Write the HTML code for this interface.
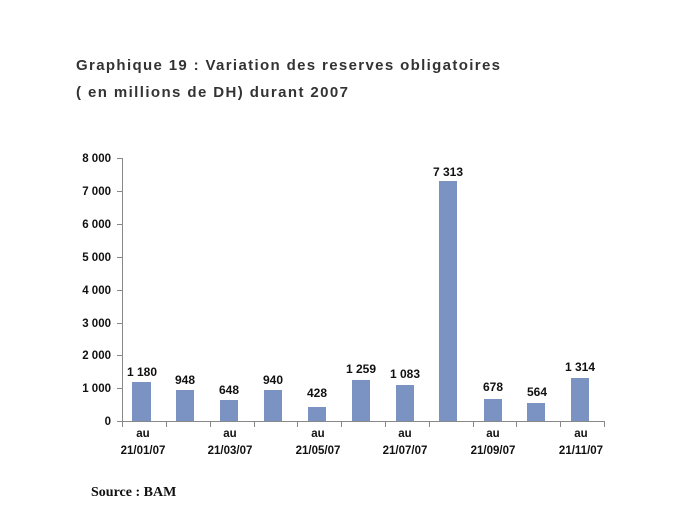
<!DOCTYPE html>
<html><head><meta charset="utf-8"><style>body{margin:0;background:#fff}svg{display:block}</style></head>
<body>
<svg width="682" height="512" xmlns="http://www.w3.org/2000/svg" font-family="Liberation Sans, sans-serif">
<text x="76" y="70" font-size="15" font-weight="bold" fill="#333" textLength="424" lengthAdjust="spacing">Graphique 19 : Variation des reserves obligatoires</text>
<text x="76" y="97" font-size="15" font-weight="bold" fill="#333" textLength="272" lengthAdjust="spacing">( en millions de DH) durant 2007</text>
<g stroke="#888" stroke-width="1">
<line x1="122.5" y1="158" x2="122.5" y2="421"/>
<line x1="122" y1="421.5" x2="604" y2="421.5"/>
<line x1="117" y1="158.5" x2="122" y2="158.5"/>
<line x1="117" y1="191.5" x2="122" y2="191.5"/>
<line x1="117" y1="224.5" x2="122" y2="224.5"/>
<line x1="117" y1="257.5" x2="122" y2="257.5"/>
<line x1="117" y1="290.5" x2="122" y2="290.5"/>
<line x1="117" y1="323.5" x2="122" y2="323.5"/>
<line x1="117" y1="355.5" x2="122" y2="355.5"/>
<line x1="117" y1="388.5" x2="122" y2="388.5"/>
<line x1="117" y1="421.5" x2="122" y2="421.5"/>
<line x1="122.5" y1="421" x2="122.5" y2="427"/>
<line x1="166.5" y1="421" x2="166.5" y2="427"/>
<line x1="210.5" y1="421" x2="210.5" y2="427"/>
<line x1="254.5" y1="421" x2="254.5" y2="427"/>
<line x1="297.5" y1="421" x2="297.5" y2="427"/>
<line x1="341.5" y1="421" x2="341.5" y2="427"/>
<line x1="385.5" y1="421" x2="385.5" y2="427"/>
<line x1="429.5" y1="421" x2="429.5" y2="427"/>
<line x1="473.5" y1="421" x2="473.5" y2="427"/>
<line x1="516.5" y1="421" x2="516.5" y2="427"/>
<line x1="560.5" y1="421" x2="560.5" y2="427"/>
<line x1="604.5" y1="421" x2="604.5" y2="427"/>
</g>
<g font-size="11.5" font-weight="bold" fill="#111" text-anchor="end">
<text x="111" y="162">8 000</text><text x="111" y="195">7 000</text><text x="111" y="228">6 000</text>
<text x="111" y="261">5 000</text><text x="111" y="294">4 000</text><text x="111" y="327">3 000</text>
<text x="111" y="359">2 000</text><text x="111" y="392">1 000</text><text x="111" y="425">0</text>
</g>
<g fill="#7b93c2">
<rect x="132" y="382" width="19" height="39"/>
<rect x="176" y="390" width="18" height="31"/>
<rect x="220" y="400" width="18" height="21"/>
<rect x="264" y="390" width="18" height="31"/>
<rect x="308" y="407" width="18" height="14"/>
<rect x="352" y="380" width="18" height="41"/>
<rect x="396" y="385" width="18" height="36"/>
<rect x="439" y="181" width="18" height="240"/>
<rect x="484" y="399" width="18" height="22"/>
<rect x="527" y="403" width="18" height="18"/>
<rect x="571" y="378" width="18" height="43"/>
</g>
<g font-size="12" font-weight="bold" fill="#111" text-anchor="middle">
<text x="142" y="376">1 180</text><text x="185" y="384">948</text><text x="229" y="394">648</text>
<text x="273" y="384">940</text><text x="317" y="397">428</text><text x="361" y="373">1 259</text>
<text x="405" y="378">1 083</text><text x="448" y="176">7 313</text><text x="493" y="391">678</text>
<text x="537" y="396">564</text><text x="580" y="371">1 314</text>
</g>
<g font-size="11.5" font-weight="bold" fill="#111" text-anchor="middle">
<text x="143" y="437">au</text><text x="143" y="454">21/01/07</text>
<text x="230" y="437">au</text><text x="230" y="454">21/03/07</text>
<text x="318" y="437">au</text><text x="318" y="454">21/05/07</text>
<text x="405" y="437">au</text><text x="405" y="454">21/07/07</text>
<text x="493" y="437">au</text><text x="493" y="454">21/09/07</text>
<text x="581" y="437">au</text><text x="581" y="454">21/11/07</text>
</g>
<text x="91" y="496" font-family="Liberation Serif, serif" font-size="14" font-weight="bold" fill="#111">Source : BAM</text>
</svg>
</body></html>
